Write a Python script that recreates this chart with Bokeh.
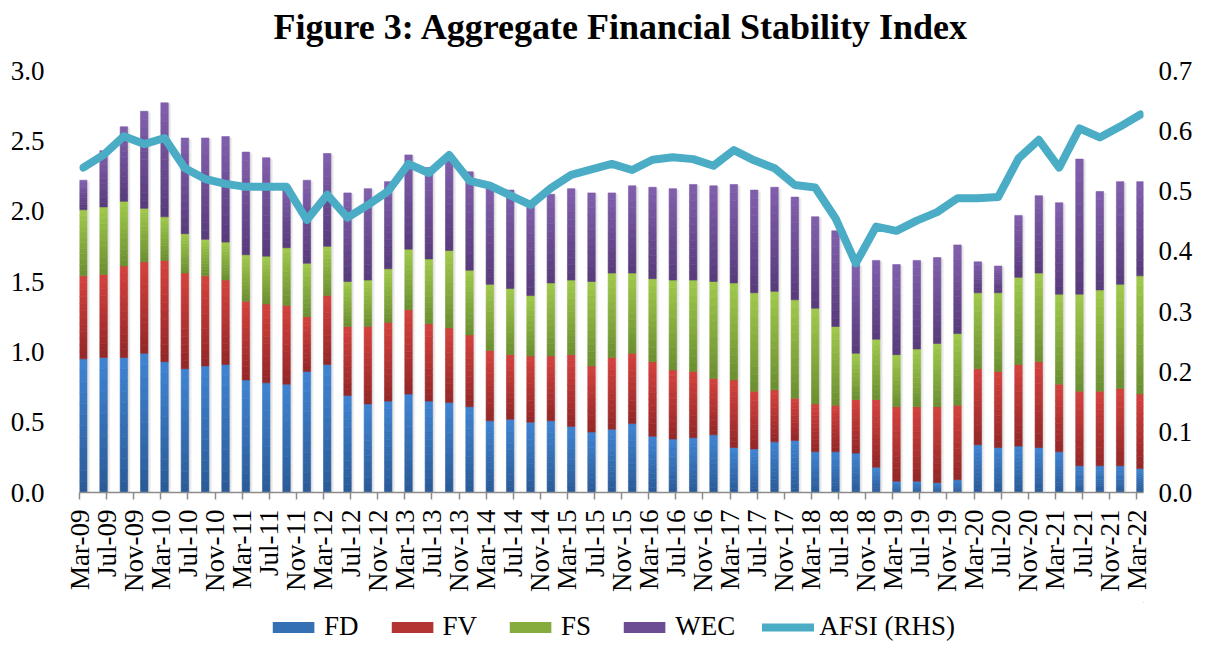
import numpy as np
from bokeh.plotting import figure
from bokeh.layouts import column
from bokeh.models import (Range1d, LinearAxis, FixedTicker, Legend, Label,
                          LegendItem, NumeralTickFormatter, ColumnDataSource)
from bokeh.embed import file_html
from bokeh.resources import INLINE

# ---------------- data ----------------
quarters = [f"{m}-{y:02d}" for y in range(9, 23) for m in ("Mar", "Jun", "Sep", "Dec")][:53]

fd = [0.95, 0.96, 0.96, 0.99, 0.93, 0.88, 0.90, 0.91, 0.80, 0.78, 0.77, 0.86, 0.91,
      0.69, 0.63, 0.65, 0.70, 0.65, 0.64, 0.61, 0.51, 0.52, 0.50, 0.51, 0.47, 0.43,
      0.45, 0.49, 0.40, 0.38, 0.39, 0.41, 0.32, 0.31, 0.36, 0.37, 0.29, 0.29, 0.28,
      0.18, 0.08, 0.08, 0.07, 0.09, 0.34, 0.32, 0.33, 0.32, 0.29, 0.19, 0.19, 0.19, 0.17]
fv = [0.59, 0.59, 0.65, 0.65, 0.72, 0.68, 0.64, 0.60, 0.56, 0.56, 0.56, 0.39, 0.49,
      0.49, 0.55, 0.56, 0.60, 0.55, 0.53, 0.51, 0.50, 0.46, 0.47, 0.46, 0.51, 0.47,
      0.51, 0.50, 0.53, 0.49, 0.47, 0.40, 0.48, 0.41, 0.37, 0.30, 0.34, 0.33, 0.38,
      0.48, 0.53, 0.53, 0.54, 0.53, 0.54, 0.54, 0.58, 0.61, 0.48, 0.53, 0.53, 0.55, 0.53]
fs = [0.47, 0.48, 0.46, 0.38, 0.31, 0.28, 0.26, 0.27, 0.33, 0.34, 0.41, 0.38, 0.35,
      0.32, 0.33, 0.38, 0.43, 0.46, 0.55, 0.46, 0.47, 0.47, 0.43, 0.52, 0.53, 0.60,
      0.60, 0.57, 0.59, 0.64, 0.65, 0.69, 0.69, 0.70, 0.70, 0.70, 0.68, 0.56, 0.33,
      0.43, 0.37, 0.41, 0.45, 0.51, 0.54, 0.56, 0.62, 0.63, 0.64, 0.69, 0.72, 0.74, 0.84]
wec = [0.21, 0.40, 0.53, 0.69, 0.81, 0.68, 0.72, 0.75, 0.73, 0.70, 0.44, 0.59, 0.66,
       0.63, 0.65, 0.62, 0.67, 0.65, 0.65, 0.70, 0.69, 0.70, 0.66, 0.63, 0.65, 0.63,
       0.57, 0.62, 0.65, 0.65, 0.68, 0.68, 0.70, 0.73, 0.74, 0.73, 0.65, 0.68, 0.63,
       0.56, 0.64, 0.63, 0.61, 0.63, 0.22, 0.19, 0.44, 0.55, 0.65, 0.96, 0.70, 0.73, 0.67]
afsi = [0.539, 0.560, 0.591, 0.578, 0.588, 0.538, 0.520, 0.512, 0.507, 0.507, 0.507,
        0.452, 0.494, 0.456, 0.477, 0.500, 0.545, 0.530, 0.560, 0.517, 0.509, 0.493,
        0.477, 0.505, 0.527, 0.536, 0.545, 0.535, 0.552, 0.556, 0.553, 0.542, 0.568,
        0.551, 0.538, 0.510, 0.506, 0.455, 0.380, 0.441, 0.434, 0.451, 0.465, 0.488,
        0.488, 0.490, 0.554, 0.585, 0.539, 0.604, 0.589, 0.607, 0.627]

tick_labels = [f"{m}-{y:02d}" for y in range(9, 23) for m in ("Mar", "Jul", "Nov")][:40]

left_ticks = [0.0, 0.5, 1.0, 1.5, 2.0, 2.5, 3.0]
right_ticks = [0.0, 0.1, 0.2, 0.3, 0.4, 0.5, 0.6, 0.7]

title_text = "Figure 3: Aggregate Financial Stability Index"
series_names = ["FD", "FV", "FS", "WEC"]
series_vals = [fd, fv, fs, wec]
# (bottom colour, top colour) of each gradient
series_cols = [("#2A5A96", "#4084D2"), ("#922727", "#D4423E"),
               ("#6B8E31", "#A1C94C"), ("#573A7A", "#8160AD")]
line_col = "#4BACC6"

FONT = "Liberation Serif"
MON = {"Jan": 0, "Feb": 1, "Mar": 2, "Apr": 3, "May": 4, "Jun": 5,
       "Jul": 6, "Aug": 7, "Sep": 8, "Oct": 9, "Nov": 10, "Dec": 11}


def month_pos(lbl):
    m, y = lbl.split("-")
    return (2000 + int(y)) * 12 + MON[m] - (2009 * 12 + 2)


qpos = np.array([month_pos(q) for q in quarters], dtype=float)
xc = qpos + 0.55
tpos = [month_pos(t) for t in tick_labels]


def hex2rgb(h):
    h = h.lstrip("#")
    return np.array([int(h[i:i + 2], 16) for i in (0, 2, 4)], dtype=float)


def lerp(c0, c1, t):
    a, b = hex2rgb(c0), hex2rgb(c1)
    c = a + (b - a) * t
    return "#%02x%02x%02x" % tuple(int(round(v)) for v in c)


W = 1201

# ---------------- title strip ----------------
ts = figure(width=W, height=50, output_backend="svg", toolbar_location=None,
            x_range=Range1d(0, W), y_range=Range1d(0, 50), min_border=0,
            x_axis_type=None, y_axis_type=None, outline_line_color=None,
            background_fill_color="white", border_fill_color="white")
ts.grid.visible = False
ts.add_layout(Label(x=611.5, y=24, text=title_text, text_align="center",
                    text_baseline="middle", text_font=FONT,
                    text_font_style="bold", text_font_size="36px",
                    text_color="black"))

# ---------------- main figure ----------------
p = figure(width=W, height=552, output_backend="svg", toolbar_location=None,
           x_range=Range1d(0, 157), y_range=Range1d(0, 3.0),
           min_border_left=79, min_border_right=58, min_border_top=20,
           min_border_bottom=110, background_fill_color="white",
           border_fill_color="white", outline_line_color=None)
p.extra_y_ranges = {"afsi": Range1d(0, 0.7)}
p.xgrid.visible = False
p.ygrid.visible = False

totals = np.array(fd) + np.array(fv) + np.array(fs) + np.array(wec)
# soft shadow
p.vbar(x=xc + 0.45, width=1.1, bottom=0, top=totals - 0.01,
       fill_color="#000000", fill_alpha=0.06, line_color=None)
p.vbar(x=xc + 0.25, width=1.1, bottom=0, top=totals,
       fill_color="#000000", fill_alpha=0.06, line_color=None)

K = 12
base = np.zeros(len(quarters))
for name, vals, (c_bot, c_top) in zip(series_names, series_vals, series_cols):
    vals = np.array(vals)
    xs, bs, tops, cs = [], [], [], []
    for i in range(K):
        xs.extend(xc)
        bs.extend(base + vals * i / K)
        tops.extend(base + vals * (i + 1) / K)
        cs.extend([lerp(c_bot, c_top, (i + 0.5) / K)] * len(xc))
    src = ColumnDataSource(dict(x=xs, bottom=bs, top=tops, color=cs))
    p.vbar(x="x", width=1.1, bottom="bottom", top="top", source=src,
           fill_color="color", line_color="color", line_width=0.6)
    base = base + vals

p.line(x=xc, y=afsi, y_range_name="afsi", line_color=line_col,
       line_width=8, line_join="round", line_cap="round")

# ---------------- axes ----------------
xa = p.xaxis[0]
xa.ticker = FixedTicker(ticks=tpos)
xa.major_label_overrides = {t: l for t, l in zip(tpos, tick_labels)}
xa.major_label_orientation = np.pi / 2
xa.major_label_text_font = FONT
xa.major_label_text_font_size = "27px"
xa.major_label_text_color = "black"
xa.axis_line_color = "#8C8C8C"
xa.axis_line_width = 1.5
xa.major_tick_line_color = "#8C8C8C"
xa.major_tick_line_width = 1.5
xa.major_tick_out = 7
xa.major_tick_in = 0
xa.minor_tick_line_color = None
xa.major_label_standoff = 10

ya = p.yaxis[0]
ya.ticker = FixedTicker(ticks=left_ticks)
ya.formatter = NumeralTickFormatter(format="0.0")
ya.axis_line_color = None
ya.major_tick_line_color = None
ya.minor_tick_line_color = None
ya.major_label_standoff = 29
ya.major_label_text_font = FONT
ya.major_label_text_font_size = "27px"
ya.major_label_text_color = "black"

ra = LinearAxis(y_range_name="afsi", ticker=FixedTicker(ticks=right_ticks),
                formatter=NumeralTickFormatter(format="0.0"))
ra.axis_line_color = None
ra.major_tick_line_color = None
ra.minor_tick_line_color = None
ra.major_label_standoff = 9
ra.major_label_text_font = FONT
ra.major_label_text_font_size = "27px"
ra.major_label_text_color = "black"
p.add_layout(ra, "right")

# ---------------- legend (separate strip) ----------------
lg = figure(width=W, height=40, output_backend="svg", toolbar_location=None,
            x_range=Range1d(0, 1), y_range=Range1d(0, 1), min_border=0,
            x_axis_type=None, y_axis_type=None,
            outline_line_color=None, background_fill_color="white",
            border_fill_color="white")
lg.grid.visible = False
items = []
for name, (c_bot, c_top) in zip(series_names, series_cols):
    r = lg.vbar(x=[5], width=0.1, bottom=[5], top=[6],
                fill_color=lerp(c_bot, c_top, 0.5), line_color=None)
    items.append(LegendItem(label=name, renderers=[r]))
r = lg.line(x=[5, 6], y=[5, 5], line_color=line_col, line_width=8,
            line_cap="round")
items.append(LegendItem(label="AFSI (RHS)", renderers=[r]))
legend = Legend(items=items, orientation="horizontal", location="bottom",
                label_text_font=FONT, label_text_font_size="27px",
                label_text_color="black", glyph_width=52, glyph_height=14,
                spacing=27, label_standoff=5, border_line_color=None,
                background_fill_alpha=0, padding=0, margin=0)
lg.add_layout(legend, "center")

layout = column(ts, p, lg, spacing=0)
open("out.html", "w").write(file_html(layout, INLINE))
